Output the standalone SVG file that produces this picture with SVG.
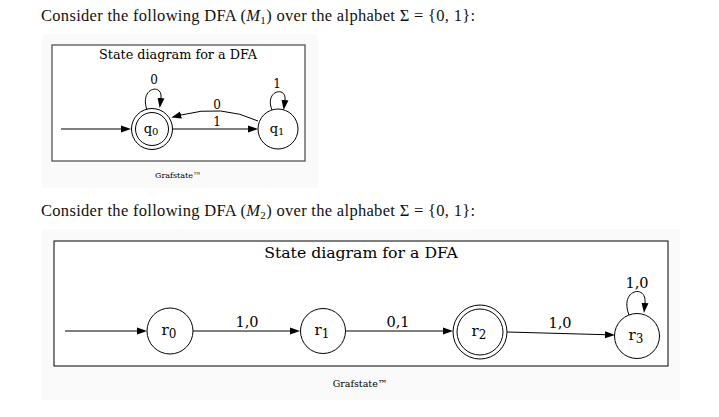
<svg xmlns="http://www.w3.org/2000/svg" width="719" height="417" viewBox="0 0 719 417">
<style>
.hdr{font-family:"Liberation Serif","DejaVu Serif",serif;font-size:16.5px;fill:#111}
.g{font-family:"DejaVu Serif",serif;fill:#000;text-anchor:middle}
.edge{fill:none;stroke:#000;stroke-width:1}
.node{fill:none;stroke:#000;stroke-width:1}
.panel{fill:#fafafa}
</style>
<defs>
<marker id="ah" markerUnits="userSpaceOnUse" markerWidth="12" markerHeight="10" refX="0" refY="3.5" orient="auto" viewBox="0 0 12 7">
<path d="M0,0 L10,3.5 L0,7 z" fill="#000"/>
</marker>
<marker id="ah2" markerUnits="userSpaceOnUse" markerWidth="12" markerHeight="10" refX="0" refY="3.5" orient="auto" viewBox="0 0 12 7">
<path d="M0,0 L10,3.5 L0,7 z" fill="#000"/>
</marker>
</defs>
<rect width="719" height="417" fill="#fff"/>
<text class="hdr" x="41" y="21" textLength="434" lengthAdjust="spacing">Consider the following DFA (<tspan font-style="italic">M</tspan><tspan font-size="11" dy="3">1</tspan><tspan dy="-3">) over the alphabet Σ = {0, 1}:</tspan></text>
<text class="hdr" x="41" y="216" textLength="434" lengthAdjust="spacing">Consider the following DFA (<tspan font-style="italic">M</tspan><tspan font-size="11" dy="3">2</tspan><tspan dy="-3">) over the alphabet Σ = {0, 1}:</tspan></text>

<g id="diagram1">
<rect class="panel" x="42" y="34" width="276" height="154"/>
<rect x="52" y="45" width="253" height="116" fill="#fff" stroke="#555" stroke-width="1.3"/>
<text class="g" x="178" y="59" font-size="12.8">State diagram for a DFA</text>
<text class="g" x="178" y="178" font-size="8">Grafstate™</text>
</g>
<g id="q0">
<circle class="node" cx="152" cy="129" r="20.5"/>
<circle class="node" cx="152" cy="129" r="16.5"/>
<text class="g" x="151" y="133" font-size="13">q<tspan font-size="10" dy="2">0</tspan></text>
</g>
<g id="q1">
<circle class="node" cx="278" cy="129" r="20"/>
<text class="g" x="277" y="133" font-size="13">q<tspan font-size="10" dy="2">1</tspan></text>
</g>
<g id="edges1">
<path class="edge" d="M61,129 L121,129" marker-end="url(#ah)"/>
<path class="edge" d="M173,129 L248,129" marker-end="url(#ah)"/>
<text class="g" x="217" y="126" font-size="12">1</text>
<path class="edge" d="M258,121 Q222,104 181,115" marker-end="url(#ah)"/>
<text class="g" x="217" y="109" font-size="12">0</text>
<path class="edge" d="M147,110 C139,87 163,83 161,98" marker-end="url(#ah)"/>
<text class="g" x="154" y="84" font-size="12">0</text>
<path class="edge" d="M272,110 C264,90 287,86 285,100" marker-end="url(#ah)"/>
<text class="g" x="277" y="88" font-size="12">1</text>
</g>

<g id="diagram2">
<rect class="panel" x="42" y="229" width="638" height="171"/>
<rect x="54" y="241" width="614" height="125" fill="#fff" stroke="#000" stroke-width="1"/>
<text class="g" x="361" y="258" font-size="15.7">State diagram for a DFA</text>
<text class="g" x="360" y="387" font-size="9.5">Grafstate™</text>
</g>
<g id="r0">
<circle class="node" cx="170" cy="331" r="23"/>
<text class="g" x="169" y="335" font-size="15">r<tspan font-size="12" dy="3">0</tspan></text>
</g>
<g id="r1">
<circle class="node" cx="323" cy="331" r="22.5"/>
<text class="g" x="322" y="335" font-size="15">r<tspan font-size="12" dy="3">1</tspan></text>
</g>
<g id="r2">
<circle class="node" cx="480" cy="332" r="27"/>
<circle class="node" cx="480" cy="332" r="23"/>
<text class="g" x="479" y="336" font-size="15">r<tspan font-size="12" dy="3">2</tspan></text>
</g>
<g id="r3">
<circle class="node" cx="637" cy="336" r="22.5"/>
<text class="g" x="636" y="340" font-size="15">r<tspan font-size="12" dy="3">3</tspan></text>
</g>
<g id="edges2">
<path class="edge" d="M65,331 L137,331" marker-end="url(#ah2)"/>
<path class="edge" d="M193,331 L290,331" marker-end="url(#ah2)"/>
<text class="g" x="247" y="327" font-size="14.5">1,0</text>
<path class="edge" d="M345,331 L443,331" marker-end="url(#ah2)"/>
<text class="g" x="398" y="327" font-size="14.5">0,1</text>
<path class="edge" d="M507,332 L605,334.7" marker-end="url(#ah2)"/>
<text class="g" x="560" y="328" font-size="14.5">1,0</text>
<path class="edge" d="M629,315 C619,289 647,284 645,303" marker-end="url(#ah2)"/>
<text class="g" x="637" y="288" font-size="14.5">1,0</text>
</g>
</svg>
